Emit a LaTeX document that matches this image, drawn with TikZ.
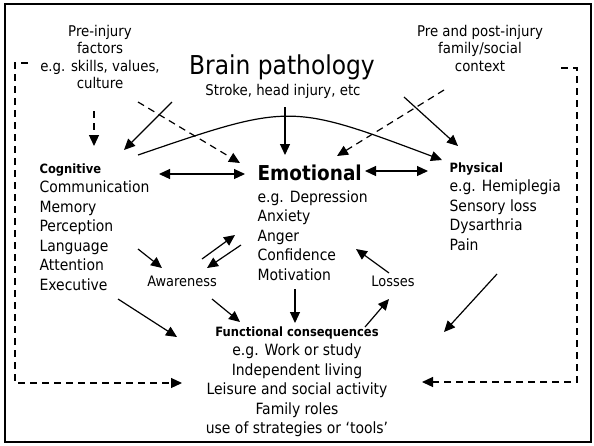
\documentclass[tikz,border=0pt]{standalone}
\usepackage{fontspec}
\setmainfont{DejaVu Sans Condensed}
\usetikzlibrary{arrows.meta, calc}

\newcommand{\headtxt}[1]{{\fontsize{12.8}{19.5}\selectfont\bfseries #1}}

\begin{document}
\begin{tikzpicture}[x=1pt, y=-1pt, line width=1.2pt,
    >={Triangle[length=11pt,width=10pt]},
    every node/.style={inner sep=0pt},
    list/.style={align=left, anchor=north west, font=\fontsize{15.5}{19.5}\selectfont},
    note/.style={align=center, font=\fontsize{14.8}{17.5}\selectfont},
    dashline/.style={dash pattern=on 7pt off 5pt}]
    \useasboundingbox (0,0) rectangle (594,445);
    \draw[line width=2pt] (4.5,4) rectangle (591,442);

    % top row
    \node[note] (pre) at (100,57) {Pre-injury\\factors\\e.g. skills, values,\\culture};
    \node[anchor=base, font=\fontsize{26}{30}\selectfont] (brain) at (282,74) {Brain pathology};
    \node[anchor=base, font=\fontsize{14.8}{17}\selectfont] (cause) at (283,95) {Stroke, head injury, etc};
    \node[note] (ctx) at (480,48) {Pre and post-injury\\family/social\\context};

    % middle row
    \node[list] (cog) at (39,163) {\headtxt{Cognitive}\\Communication\\Memory\\Perception\\Language\\Attention\\Executive};
    \node[list] (emo) at (257,164) {{\fontsize{20.5}{22}\selectfont\bfseries Emotional}\\[2.5pt]e.g. Depression\\Anxiety\\Anger\\Confidence\\Motivation};
    \node[list] (phys) at (449,162) {\headtxt{Physical}\\e.g. Hemiplegia\\Sensory loss\\Dysarthria\\Pain};
    \node[font=\fontsize{14.4}{17}\selectfont] (aware) at (182,281) {Awareness};
    \node[font=\fontsize{14.4}{17}\selectfont] (loss) at (393,281) {Losses};

    % bottom
    \node[list, align=center, anchor=north] (func) at (297,326) {\headtxt{Functional consequences}\\e.g. Work or study\\Independent living\\Leisure and social activity\\Family roles\\use of strategies or `tools'};

    % into the three areas
    \draw[->, dashline] ($(pre)+(-6,54)$) -- ($(cog.north west)+(55,-17)$);
    \draw[->] ($(brain.base)+(-110,28)$) -- ($(cog.north west)+(85,-13)$);
    \draw[->, dashline] ($(pre)+(38,45)$) -- ($(emo.north west)+(-17,-1)$);
    \draw[->] ($(cause.base)+(2,12)$) -- ($(emo.north west)+(28,-9)$);
    \draw[->, dashline] ($(ctx)+(-36,42)$) -- ($(emo.north west)+(80,-8)$);
    \draw[->] ($(brain.base)+(122,23)$) -- ($(phys.north west)+(9,-16)$);
    \draw[->] ($(cog.north west)+(99,-8)$) .. controls ($(emo.north west)+(33,-61)$) .. ($(phys.north west)+(-7,-2)$);
    \draw[<->] ($(cog.north west)+(120,11)$) -- ($(emo.north west)+(-12,10)$);
    \draw[<->] ($(emo.north west)+(108,7)$) -- ($(phys.north west)+(-21,9)$);

    % awareness and losses
    \draw[->] ($(cog.north west)+(99,86)$) -- ($(aware)+(-20,-13)$);
    \draw[->] ($(aware)+(20,-22)$) -- ($(emo.north west)+(-22,71)$);
    \draw[->] ($(emo.north west)+(-16,81)$) -- ($(aware)+(25,-13)$);
    \draw[->] ($(aware)+(30,18)$) -- ($(func.north)+(-57,-4)$);
    \draw[->] ($(loss)+(-4,-8)$) -- ($(emo.north west)+(99,85)$);
    \draw[->] ($(func.north)+(68,1)$) -- ($(loss)+(-4,18)$);

    % into functional consequences
    \draw[->] ($(cog.north west)+(79,136)$) -- ($(func.north)+(-120,11)$);
    \draw[->] ($(emo.north west)+(38,125)$) -- ($(func.north)+(-2,-3)$);
    \draw[->] ($(phys.north west)+(48,112)$) -- ($(func.north)+(147,6)$);
    \draw[->, dashline] ($(pre)+(-72,6)$) -- ++(-13,0) |- ($(func.north)+(-115,57)$);
    \draw[->, dashline] ($(ctx)+(81,20)$) -- ++(16,0) |- ($(func.north)+(125,56)$);
\end{tikzpicture}
\end{document}
